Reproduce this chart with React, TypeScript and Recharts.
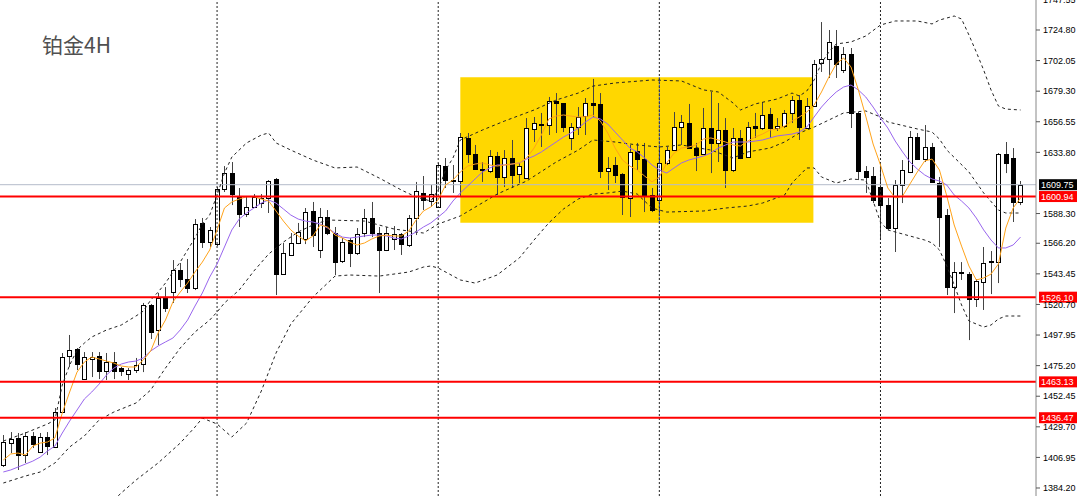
import {
  Bar,
  ComposedChart,
  Line,
  ReferenceArea,
  ReferenceLine,
  XAxis,
  YAxis
} from 'recharts';

// 4H platinum candles, oldest first
const opens = [
  1401.3, 1417.6, 1421.4, 1408.7, 1422.9, 1410.9, 1422.1, 1414.7, 1440.7, 1482.3,
  1487.5, 1465.2, 1480.1, 1482.3, 1471.2, 1477.9, 1473.4, 1469.0, 1471.9, 1476.4,
  1520.3, 1501.7, 1525.5, 1529.9, 1546.3, 1539.6, 1532.9, 1581.3, 1567.1, 1565.6,
  1606.5, 1618.4, 1601.3, 1587.9, 1593.2, 1596.1, 1599.9, 1614.0, 1543.3, 1557.5,
  1566.4, 1569.4, 1590.2, 1561.2, 1585.7, 1573.8, 1553.0, 1568.6, 1558.9, 1573.8,
  1585.0, 1573.8, 1561.2, 1569.4, 1573.1, 1564.9, 1585.0, 1603.6, 1597.6, 1593.2,
  1623.6, 1612.5, 1612.5, 1644.5, 1632.6, 1621.4, 1619.9, 1631.1, 1615.5, 1629.6,
  1617.7, 1614.7, 1651.2, 1654.1, 1654.1, 1672.0, 1670.5, 1644.5, 1652.6, 1660.8,
  1670.5, 1669.8, 1619.9, 1624.4, 1617.7, 1599.9, 1634.8, 1628.8, 1602.1, 1598.4,
  1625.9, 1635.5, 1652.6, 1655.6, 1637.0, 1632.6, 1651.9, 1640.8, 1650.4, 1620.7,
  1644.5, 1630.3, 1653.4, 1651.9, 1662.3, 1651.9, 1653.4, 1663.1, 1672.7, 1651.9,
  1668.3, 1700.2, 1703.2, 1712.9, 1695.0, 1706.9, 1663.1, 1619.9, 1616.2, 1608.0,
  1594.6, 1577.5, 1609.5, 1619.2, 1645.2, 1628.8, 1637.8, 1611.0, 1587.2, 1533.6,
  1544.8, 1543.3, 1524.7, 1537.4, 1552.2, 1552.2, 1632.6, 1629.6, 1596.9
];

const highs = [
  1423.6, 1425.8, 1425.1, 1425.8, 1425.8, 1425.1, 1425.8, 1443.7, 1484.6, 1498.0,
  1488.3, 1485.3, 1485.3, 1485.3, 1484.6, 1485.3, 1474.2, 1473.4, 1480.9, 1521.8,
  1521.0, 1529.2, 1533.6, 1553.7, 1551.5, 1554.5, 1584.2, 1585.0, 1578.3, 1608.0,
  1623.6, 1626.6, 1607.3, 1600.6, 1602.8, 1602.8, 1613.2, 1614.7, 1566.4, 1573.8,
  1581.3, 1592.4, 1596.9, 1592.4, 1590.9, 1578.3, 1570.1, 1570.1, 1577.5, 1591.7,
  1596.9, 1578.3, 1578.3, 1579.0, 1573.8, 1587.2, 1611.8, 1616.2, 1609.5, 1625.9,
  1629.6, 1624.4, 1648.2, 1648.2, 1639.3, 1626.6, 1635.5, 1634.1, 1635.5, 1643.0,
  1625.9, 1659.3, 1660.1, 1663.1, 1675.0, 1677.9, 1670.5, 1655.6, 1667.5, 1674.2,
  1688.4, 1677.9, 1630.3, 1630.3, 1618.4, 1639.3, 1640.8, 1640.8, 1607.3, 1637.8,
  1637.8, 1663.8, 1661.6, 1669.8, 1640.8, 1666.8, 1678.7, 1670.5, 1659.3, 1651.9,
  1650.4, 1656.4, 1663.1, 1671.2, 1666.8, 1659.3, 1665.3, 1675.7, 1676.4, 1674.2,
  1702.5, 1730.7, 1724.8, 1724.8, 1712.1, 1711.4, 1663.8, 1623.6, 1622.9, 1626.6,
  1599.9, 1613.2, 1628.1, 1649.7, 1648.2, 1654.1, 1640.8, 1615.5, 1591.7, 1552.2,
  1552.2, 1544.8, 1539.6, 1563.4, 1560.4, 1633.3, 1641.5, 1637.0, 1612.5
];

const lows = [
  1399.8, 1410.2, 1397.6, 1402.8, 1413.9, 1410.2, 1408.7, 1413.9, 1439.9, 1474.2,
  1471.9, 1464.5, 1466.7, 1465.2, 1464.5, 1465.2, 1467.5, 1464.5, 1469.7, 1470.4,
  1495.0, 1490.5, 1515.1, 1521.8, 1533.6, 1529.2, 1531.4, 1562.7, 1563.4, 1564.1,
  1604.3, 1594.6, 1578.3, 1585.7, 1592.4, 1592.4, 1588.7, 1527.7, 1542.6, 1556.7,
  1565.6, 1565.6, 1563.4, 1555.2, 1572.3, 1542.6, 1551.5, 1548.5, 1557.5, 1570.8,
  1570.8, 1529.2, 1560.4, 1561.2, 1557.5, 1563.4, 1572.3, 1590.9, 1593.2, 1592.4,
  1607.3, 1603.6, 1600.6, 1625.9, 1620.7, 1611.8, 1618.4, 1602.1, 1608.0, 1607.3,
  1611.0, 1614.7, 1641.5, 1637.8, 1646.7, 1648.2, 1648.9, 1635.5, 1646.7, 1646.7,
  1660.1, 1614.7, 1605.8, 1611.0, 1587.2, 1585.7, 1620.7, 1589.4, 1589.4, 1588.7,
  1624.4, 1634.8, 1639.3, 1636.3, 1619.9, 1631.8, 1618.4, 1626.6, 1607.3, 1619.2,
  1628.8, 1629.6, 1644.5, 1650.4, 1644.5, 1649.7, 1651.9, 1655.6, 1643.0, 1651.2,
  1667.5, 1693.6, 1689.1, 1689.1, 1692.8, 1651.9, 1613.2, 1603.6, 1596.1, 1568.6,
  1576.1, 1559.7, 1596.1, 1618.4, 1628.1, 1626.6, 1611.0, 1563.4, 1527.7, 1514.3,
  1538.9, 1494.2, 1518.8, 1516.6, 1528.4, 1536.6, 1618.4, 1582.0, 1594.6
];

const closes = [
  1418.4, 1420.6, 1408.7, 1422.9, 1416.9, 1422.1, 1415.4, 1440.7, 1481.6, 1486.8,
  1476.4, 1481.6, 1481.6, 1471.2, 1477.9, 1471.2, 1471.2, 1471.9, 1475.6, 1520.3,
  1500.2, 1525.5, 1518.0, 1546.3, 1539.6, 1532.9, 1580.5, 1567.1, 1576.1, 1606.5,
  1618.4, 1602.8, 1587.9, 1593.2, 1600.6, 1599.9, 1612.5, 1543.3, 1558.9, 1566.4,
  1574.6, 1589.4, 1572.3, 1585.7, 1573.8, 1552.2, 1567.1, 1558.9, 1573.1, 1585.0,
  1573.8, 1561.2, 1573.8, 1573.1, 1565.6, 1585.0, 1605.0, 1598.4, 1602.8, 1624.4,
  1613.2, 1613.2, 1645.2, 1632.6, 1621.4, 1620.7, 1631.1, 1615.5, 1629.6, 1617.0,
  1623.6, 1651.9, 1655.6, 1654.9, 1672.0, 1670.5, 1652.6, 1652.6, 1660.1, 1670.5,
  1669.0, 1619.9, 1622.2, 1617.0, 1600.6, 1634.1, 1628.8, 1602.1, 1590.9, 1625.9,
  1635.5, 1652.6, 1656.4, 1637.0, 1631.8, 1651.9, 1640.8, 1650.4, 1620.7, 1644.5,
  1629.6, 1652.6, 1651.9, 1661.6, 1651.9, 1653.4, 1663.1, 1672.7, 1652.6, 1668.3,
  1699.5, 1703.2, 1715.9, 1699.5, 1706.9, 1663.1, 1619.9, 1615.5, 1598.4, 1594.6,
  1577.5, 1609.5, 1620.7, 1645.2, 1628.8, 1637.8, 1611.8, 1585.7, 1533.6, 1544.8,
  1544.1, 1524.7, 1538.1, 1551.5, 1553.0, 1632.6, 1625.9, 1596.9, 1609.75
];

// fast moving average (orange)
const fastMa = [
  1405.0, 1409.5, 1410.2, 1408.7, 1415.4, 1417.6, 1418.4, 1421.4, 1440.0, 1455.6,
  1470.4, 1477.9, 1481.6, 1480.1, 1478.6, 1477.1, 1474.9, 1474.2, 1474.2, 1479.4,
  1486.1, 1499.5, 1509.1, 1522.5, 1529.9, 1536.6, 1544.8, 1552.2, 1561.2, 1576.1,
  1592.4, 1596.9, 1599.1, 1600.8, 1600.8, 1599.1, 1597.6, 1590.2, 1582.7, 1576.1,
  1571.6, 1567.9, 1571.6, 1579.8, 1578.3, 1572.3, 1570.1, 1567.1, 1564.9, 1566.4,
  1569.4, 1571.6, 1572.3, 1571.6, 1571.6, 1575.3, 1583.5, 1590.2, 1593.2, 1598.4,
  1609.5, 1613.2, 1619.2, 1623.6, 1625.1, 1625.9, 1624.4, 1623.6, 1624.4, 1625.1,
  1625.9, 1629.6, 1637.0, 1646.7, 1658.6, 1660.8, 1661.6, 1660.8, 1660.1, 1660.3,
  1661.6, 1657.1, 1648.2, 1637.0, 1628.1, 1623.6, 1620.7, 1616.2, 1611.8, 1615.5,
  1625.9, 1633.3, 1637.0, 1637.8, 1639.3, 1643.7, 1644.5, 1643.0, 1641.5, 1639.3,
  1638.5, 1642.2, 1645.2, 1647.4, 1650.4, 1651.2, 1653.4, 1657.1, 1660.1, 1663.8,
  1669.0, 1678.7, 1689.8, 1699.5, 1704.0, 1697.3, 1680.2, 1660.8, 1640.0, 1624.4,
  1607.3, 1599.9, 1601.3, 1610.3, 1619.2, 1627.4, 1628.8, 1620.7, 1601.3, 1579.8,
  1564.1, 1549.3, 1538.9, 1540.4, 1543.3, 1550.8, 1577.5, 1592.4, 1599.9
];

// slow moving average (purple)
const slowMa = [
  1396.1, 1397.6, 1399.8, 1402.0, 1404.2, 1407.2, 1411.7, 1415.4, 1425.1, 1434.0,
  1442.2, 1450.4, 1455.6, 1461.5, 1468.2, 1473.4, 1476.4, 1477.9, 1478.6, 1480.9,
  1486.1, 1489.8, 1492.8, 1495.7, 1501.7, 1509.1, 1519.5, 1529.2, 1541.1, 1550.8,
  1563.4, 1576.1, 1584.2, 1588.7, 1592.4, 1596.1, 1598.4, 1596.1, 1591.7, 1587.2,
  1584.2, 1582.7, 1582.0, 1580.5, 1577.5, 1573.8, 1570.8, 1570.1, 1570.8, 1571.6,
  1572.3, 1572.3, 1571.6, 1570.1, 1569.4, 1571.6, 1574.6, 1578.3, 1581.3, 1585.7,
  1590.2, 1597.6, 1603.6, 1608.8, 1614.0, 1619.2, 1622.2, 1624.4, 1624.4, 1625.1,
  1625.9, 1628.8, 1631.1, 1634.1, 1637.8, 1641.5, 1645.2, 1648.2, 1651.9, 1656.4,
  1660.1, 1658.6, 1654.9, 1648.9, 1643.0, 1637.0, 1634.1, 1629.6, 1624.4, 1620.7,
  1618.4, 1622.2, 1625.9, 1628.1, 1629.6, 1631.1, 1633.3, 1637.0, 1639.3, 1641.5,
  1641.5, 1641.5, 1642.2, 1643.0, 1644.5, 1646.0, 1646.7, 1647.4, 1648.9, 1652.6,
  1660.1, 1667.5, 1673.5, 1678.7, 1682.4, 1683.9, 1680.2, 1675.0, 1667.5, 1659.3,
  1651.9, 1642.2, 1634.1, 1626.6, 1621.4, 1617.0, 1614.0, 1612.5, 1609.5, 1602.1,
  1597.6, 1592.4, 1585.0, 1576.1, 1568.6, 1562.7, 1562.7, 1564.9, 1570.8
];

// Bollinger band vertices: [bar index, price]
const upperBand: [number, number][] = [
  [0, 1419.1], [3, 1425.1], [6, 1431.8], [7, 1434.8], [8, 1460.8], [9, 1475.6], [10, 1486.8],
  [11, 1492.0], [12, 1496.5], [14, 1501.7], [16, 1505.4], [18, 1512.1], [19, 1515.8], [20, 1524.0],
  [21, 1529.9], [22, 1536.6], [23, 1544.8], [24, 1552.2], [25, 1561.2], [26, 1570.1], [27, 1580.5],
  [28, 1587.2], [29, 1602.1], [30, 1618.4], [31, 1630.3], [33, 1640.8], [35, 1646.7], [36, 1648.2],
  [37, 1640.8], [39, 1635.5], [42, 1628.1], [45, 1622.2], [48, 1622.9], [51, 1614.7], [54, 1605.8],
  [56, 1600.6], [58, 1597.6], [59, 1605.8], [60, 1620.7], [61, 1629.6], [62, 1643.0], [65, 1650.4],
  [68, 1657.1], [72, 1665.3], [75, 1672.7], [78, 1677.9], [80, 1683.1], [83, 1685.4], [88, 1687.6],
  [92, 1686.9], [95, 1680.2], [97, 1678.7], [99, 1670.5], [100, 1665.3], [102, 1669.8], [105, 1673.5],
  [107, 1677.9], [108, 1675.7], [109, 1679.4], [110, 1687.6], [111, 1700.2], [112, 1708.4],
  [113, 1714.4], [115, 1715.9], [117, 1720.3], [119, 1728.5], [121, 1731.5], [124, 1731.5],
  [126, 1729.3], [127, 1732.2], [129, 1735.2], [130, 1733.0], [131, 1721.1], [132, 1708.4],
  [133, 1695.0], [134, 1680.2], [135, 1668.3], [136, 1666.0], [138, 1665.3]
];

const middleBand: [number, number][] = [
  [0, 1387.9], [3, 1393.1], [5, 1396.1], [7, 1402.8], [9, 1414.7], [11, 1422.9], [13, 1434.8],
  [15, 1440.7], [18, 1447.4], [20, 1457.1], [22, 1473.4], [24, 1488.3], [26, 1500.2], [28, 1509.1],
  [29, 1515.1], [30, 1521.8], [32, 1531.4], [34, 1545.6], [36, 1558.2], [38, 1567.1], [40, 1574.6],
  [42, 1579.8], [44, 1583.5], [49, 1582.7], [53, 1576.8], [57, 1573.8], [59, 1580.5], [62, 1586.5],
  [67, 1602.8], [71, 1612.5], [75, 1626.6], [78, 1635.5], [80, 1643.0], [83, 1641.5], [86, 1639.3],
  [89, 1637.8], [92, 1639.3], [96, 1635.5], [99, 1629.6], [101, 1634.1], [104, 1637.0],
  [106, 1641.5], [108, 1648.2], [110, 1652.6], [114, 1663.1], [117, 1664.6], [119, 1660.1],
  [120, 1656.4], [124, 1651.2], [126, 1648.9], [127, 1643.7], [128, 1635.5], [131, 1619.2],
  [133, 1603.6], [135, 1590.9], [136, 1588.7], [138, 1588.7]
];

const lowerBand: [number, number][] = [
  [15, 1375.3], [16, 1380.5], [18, 1390.1], [21, 1402.8], [24, 1417.6], [26, 1429.5], [27, 1436.2],
  [29, 1431.8], [31, 1422.1], [33, 1432.5], [35, 1456.3], [37, 1484.6], [39, 1506.1], [42, 1526.2],
  [45, 1541.8], [47, 1542.6], [51, 1541.8], [55, 1544.8], [57, 1548.5], [58, 1549.3], [59, 1547.8],
  [62, 1538.9], [64, 1536.6], [67, 1542.6], [70, 1555.2], [72, 1568.6], [74, 1581.3], [76, 1591.7],
  [78, 1599.1], [80, 1602.8], [82, 1603.6], [84, 1605.0], [86, 1602.8], [88, 1592.4], [90, 1589.4],
  [95, 1590.2], [98, 1592.4], [101, 1593.9], [103, 1596.1], [106, 1602.1], [107, 1611.0],
  [109, 1622.2], [110, 1622.2], [111, 1615.5], [113, 1611.0], [115, 1614.0], [117, 1613.2],
  [119, 1582.0], [120, 1576.1], [122, 1573.1], [125, 1568.6], [126, 1566.4], [127, 1561.2],
  [128, 1549.3], [129, 1535.2], [130, 1520.3], [131, 1508.4], [133, 1503.9], [134, 1505.4],
  [135, 1509.9], [136, 1512.1], [138, 1512.1]
];

const priceTicks = [
  1747.55, 1724.8, 1702.05, 1679.3, 1656.55, 1633.8, 1588.3, 1566.2, 1543.45,
  1520.7, 1497.95, 1475.2, 1452.45, 1429.7, 1406.95, 1384.2
];
const levels = [1600.94, 1526.1, 1463.13, 1436.47];
const separatorBars = [29, 59, 89, 119];
// consolidation box: bar range and price range
const boxBars = [62, 109.9];
const boxPrices = [1581.5, 1689.6];

const lastClose = closes[closes.length - 1];
const Y_DOMAIN: [number, number] = [1378.25, 1747.1];

const bandAt = (band: [number, number][]) => {
  const m = new Map(band);
  return (i: number) => (m.has(i) ? m.get(i) : null);
};
const upperAt = bandAt(upperBand);
const middleAt = bandAt(middleBand);
const lowerAt = bandAt(lowerBand);

const data = opens.map((open, i) => ({
  i,
  open,
  high: highs[i],
  low: lows[i],
  close: closes[i],
  fast: fastMa[i],
  slow: slowMa[i],
  upper: upperAt(i),
  middle: middleAt(i),
  lower: lowerAt(i)
}));

const Candle = (props: any) => {
  const { x, y, width, height, payload } = props;
  if (!payload || x == null) return null;
  const { open, close, high, low } = payload;
  const top = Math.min(y, y + height);
  const h = Math.abs(height);
  const span = high - low || 1;
  const toY = (v: number) => top + ((high - v) / span) * h;
  const cx = Math.round(x + width / 2) + 0.5;
  const bodyTop = Math.round(toY(Math.max(open, close))) + 0.5;
  const bodyBottom = Math.round(toY(Math.min(open, close))) + 0.5;
  const up = close >= open;
  return (
    <g>
      <line x1={cx} x2={cx} y1={top} y2={top + h} stroke="#444" strokeWidth={1} />
      <rect
        x={cx - 2}
        y={bodyTop}
        width={4}
        height={Math.max(bodyBottom - bodyTop, 0.5)}
        fill={up ? '#ffffff' : '#000000'}
        stroke="#000"
        strokeWidth={1}
      />
    </g>
  );
};

// price tag on the right axis for a horizontal line
const PriceTag = (props: any) => {
  const { viewBox, bg, price } = props;
  if (!viewBox) return null;
  const left = viewBox.x + viewBox.width + 3;
  return (
    <g>
      <rect x={left} y={viewBox.y - 5.5} width={38} height={11} fill={bg} />
      <text
        x={left + 2}
        y={viewBox.y + 3.5}
        fill="#fff"
        fontSize={9}
        fontFamily="Liberation Sans, Arial, sans-serif"
      >
        {price.toFixed(2)}
      </text>
    </g>
  );
};

const lineProps = {
  dot: false,
  activeDot: false,
  isAnimationActive: false
} as const;

export default function App() {
  return (
    <div
      style={{
        position: 'absolute',
        left: 0,
        top: 0,
        width: 1080,
        height: 496,
        background: '#fff',
        fontFamily: 'Liberation Sans, Arial, sans-serif'
      }}
    >
      <ComposedChart width={1080} height={496} data={data} margin={{ top: 0, right: 0, bottom: 0, left: 0 }}>
        <XAxis dataKey="i" type="number" domain={[-0.45, 140.1]} hide allowDataOverflow />
        <YAxis
          orientation="right"
          width={44}
          domain={Y_DOMAIN}
          allowDataOverflow
          ticks={priceTicks}
          interval={0}
          tickFormatter={(v: number) => v.toFixed(2)}
          tick={{ fontSize: 9, fill: '#000' }}
          tickSize={4}
          tickMargin={3}
          tickLine={{ stroke: '#555' }}
          axisLine={{ stroke: '#888' }}
        />
        <ReferenceArea
          x1={boxBars[0]}
          x2={boxBars[1]}
          y1={boxPrices[0]}
          y2={boxPrices[1]}
          fill="#FFD700"
          fillOpacity={1}
          stroke="none"
        />
        {separatorBars.map((b) => (
          <ReferenceLine key={b} x={b} stroke="#222" strokeDasharray="2 2" />
        ))}
        <ReferenceLine
          segment={[
            { x: separatorBars[2], y: boxPrices[0] },
            { x: separatorBars[2], y: boxPrices[1] }
          ]}
          stroke="#2848c8"
          strokeDasharray="2 2"
        />
        <ReferenceLine
          y={lastClose}
          stroke="#b4bccb"
          label={<PriceTag bg="#000" price={lastClose} />}
        />
        <Bar
          dataKey={(d: any) => [d.low, d.high]}
          barSize={5}
          shape={<Candle />}
          activeBar={false}
          isAnimationActive={false}
        />
        <Line dataKey="upper" stroke="#222" strokeDasharray="3 3" connectNulls {...lineProps} />
        <Line dataKey="middle" stroke="#222" strokeDasharray="3 3" connectNulls {...lineProps} />
        <Line dataKey="lower" stroke="#222" strokeDasharray="3 3" connectNulls {...lineProps} />
        <Line dataKey="slow" stroke="#9966ee" strokeWidth={1} {...lineProps} />
        <Line dataKey="fast" stroke="#ffa31a" strokeWidth={1} {...lineProps} />
        {levels.map((lv) => (
          <ReferenceLine
            key={lv}
            y={lv}
            stroke="#ff0000"
            strokeWidth={2}
            label={<PriceTag bg="#ff0000" price={lv} />}
          />
        ))}
      </ComposedChart>
      <div
        style={{
          position: 'absolute',
          left: 42,
          top: 34,
          fontSize: 21,
          lineHeight: 1,
          color: '#505050',
          fontFamily: '"Noto Sans CJK SC", "Noto Sans", sans-serif'
        }}
      >
        铂金4H
      </div>
    </div>
  );
}
